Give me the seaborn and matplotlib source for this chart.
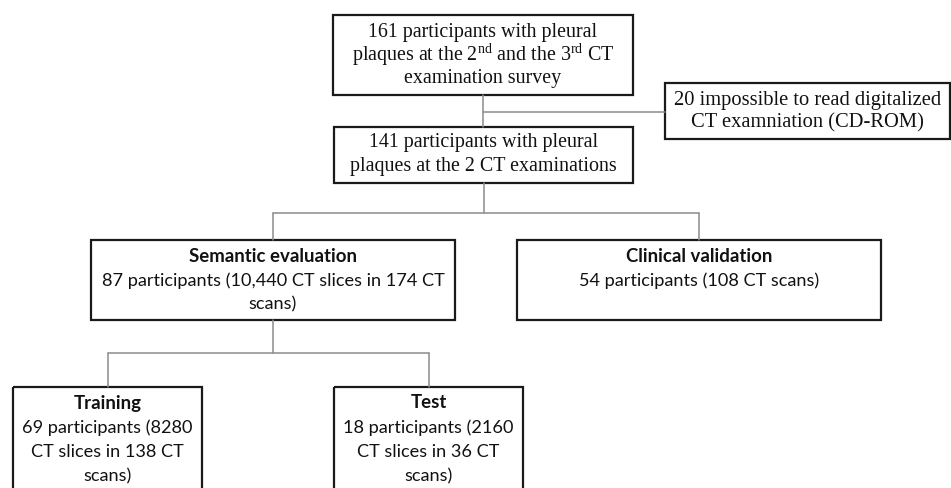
import matplotlib
matplotlib.use("Agg")
import matplotlib.pyplot as plt
from matplotlib.patches import Rectangle
import seaborn as sns

# Flowchart texts
serif_boxes = [
    ["161 participants with pleural",
     r"plaques at the 2$^{\mathrm{nd}}$ and the 3$^{\mathrm{rd}}$ CT",
     "examination survey"],
    ["20 impossible to read digitalized",
     "CT examniation (CD-ROM)"],
    ["141 participants with pleural",
     "plaques at the 2 CT examinations"],
]
group_titles = ["Semantic evaluation", "Clinical validation", "Training", "Test"]
group_bodies = [
    ["87 participants (10,440 CT slices in 174 CT", "scans)"],
    ["54 participants (108 CT scans)"],
    ["69 participants (8280", "CT slices in 138 CT", "scans)"],
    ["18 participants (2160", "CT slices in 36 CT", "scans)"],
]

sns.set_theme(style="white")
plt.rcParams["mathtext.fontset"] = "custom"
plt.rcParams["mathtext.rm"] = "Liberation Serif"

fig = plt.figure(figsize=(9.51, 4.88), dpi=100)
ax = fig.add_axes([0, 0, 1, 1])
ax.set_xlim(0, 951)
ax.set_ylim(488, 0)
ax.axis("off")

box_kw = dict(fill=False, edgecolor="#1a1a1a", linewidth=1.6)
line_kw = dict(color="#8c8c8c", linewidth=1.1)

# box layout: (x0, y0, x1, y1)
serif_layout = [(333, 15, 633, 95), (665, 83, 950, 139), (334, 127, 633, 183)]
serif_lines_y = [[32, 55, 78], [100, 123], [142, 166]]
serif_sizes = [14.4, 14.8, 14.4]
group_layout = [(91, 240, 455, 320), (517, 240, 881, 320),
                (13, 387, 202, 500), (334, 387, 523, 500)]
group_first_y = [256, 256, 403, 403]
line_gap = 24.3

for (x0, y0, x1, y1), texts, ys, fs in zip(serif_layout, serif_boxes,
                                           serif_lines_y, serif_sizes):
    ax.add_patch(Rectangle((x0, y0), x1 - x0, y1 - y0, **box_kw))
    for t, y in zip(texts, ys):
        ax.text((x0 + x1) / 2, y, t, ha="center", va="center",
                family="Liberation Serif", fontsize=fs, color="#111111")

for (x0, y0, x1, y1), title, body, y in zip(group_layout, group_titles,
                                           group_bodies, group_first_y):
    ax.add_patch(Rectangle((x0, y0), x1 - x0, y1 - y0, **box_kw))
    cx = (x0 + x1) / 2
    ax.text(cx, y, title, ha="center", va="center", family="Lato",
            fontweight="bold", fontsize=13.4, color="#111111")
    for i, t in enumerate(body):
        ax.text(cx, y + (i + 1) * line_gap, t, ha="center", va="center",
                family="Lato", fontsize=13.1, color="#111111")

# connectors
ax.plot([483, 483], [95, 127], **line_kw)
ax.plot([483, 665], [112, 112], **line_kw)
ax.plot([484, 484], [183, 213], **line_kw)
ax.plot([273, 699], [213, 213], **line_kw)
ax.plot([273, 273], [213, 240], **line_kw)
ax.plot([699, 699], [213, 240], **line_kw)
ax.plot([273, 273], [320, 353], **line_kw)
ax.plot([108, 429], [353, 353], **line_kw)
ax.plot([108, 108], [353, 387], **line_kw)
ax.plot([429, 429], [353, 387], **line_kw)

fig.savefig("out.png", dpi=100, facecolor="white")
